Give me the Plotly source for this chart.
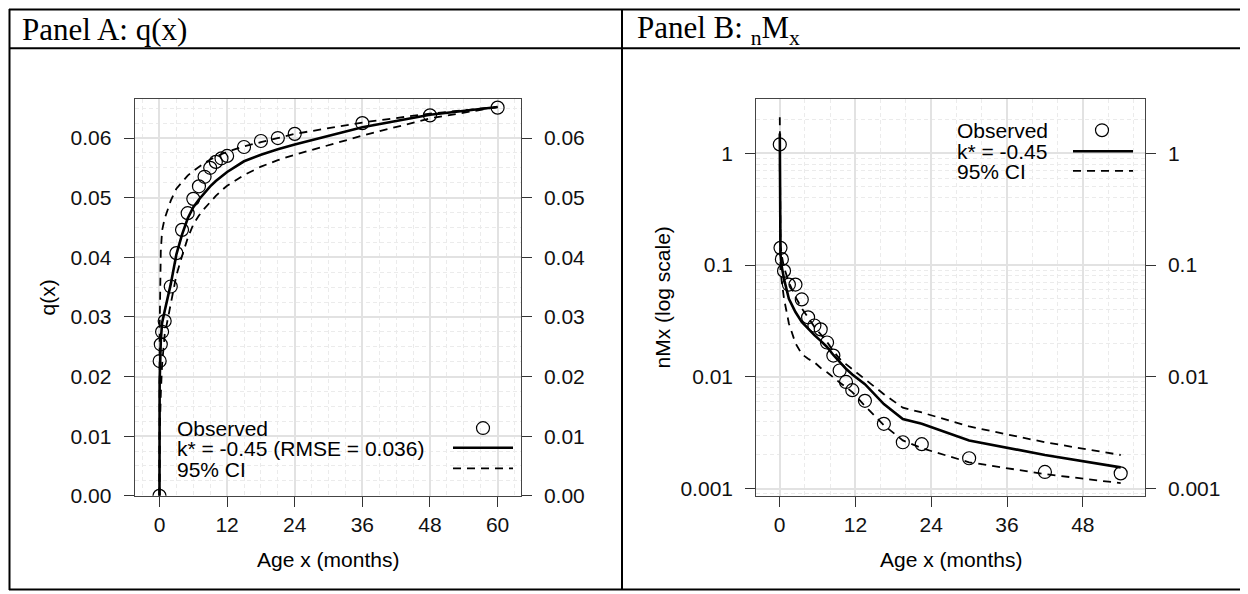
import plotly.graph_objects as go

# ---------------- data ----------------
# Panel A: cumulative probability of dying q(x), age in months
age_a = [0, 0.03, 0.23, 0.46, 0.92, 2, 3, 4, 5, 6, 7, 8, 9, 10, 11, 12, 15, 18, 21, 24, 36, 48, 60]
q_obs = [0.0, 0.0226, 0.0254, 0.0275, 0.0293, 0.0351, 0.0407, 0.0446, 0.0474, 0.0498, 0.0519, 0.0535,
         0.0550, 0.0560, 0.0566, 0.0570, 0.0585, 0.0595, 0.0600, 0.0607, 0.0625, 0.0638, 0.0651]
q_fit = [0.0, 0.019, 0.026, 0.029, 0.031, 0.0355, 0.0405, 0.0438, 0.0465, 0.0484, 0.0497, 0.0508,
         0.0519, 0.0528, 0.0536, 0.0543, 0.0561, 0.0572, 0.0581, 0.0589, 0.0618, 0.0639, 0.0652]
q_up = [0.0, 0.028, 0.041, 0.0445, 0.0465, 0.0495, 0.0515, 0.0527, 0.0537, 0.0545, 0.0552, 0.0558,
        0.0564, 0.0569, 0.0573, 0.0577, 0.0586, 0.0593, 0.0600, 0.0607, 0.0626, 0.0641, 0.0652]
q_lo = [0.0, 0.010, 0.017, 0.022, 0.027, 0.0325, 0.037, 0.0402, 0.0432, 0.0455, 0.047, 0.0482,
        0.0493, 0.0503, 0.0512, 0.0520, 0.0538, 0.0552, 0.0563, 0.0572, 0.0604, 0.0633, 0.0652]

# Panel B: age-specific mortality rate nMx (interval midpoints, months)
age_b = [0.02, 0.13, 0.35, 0.69, 1.46, 2.5, 3.5, 4.5, 5.5, 6.5, 7.5, 8.5, 9.5, 10.5, 11.5,
         13.5, 16.5, 19.5, 22.5, 30, 42, 54]
m_obs = [1.2, 0.1425, 0.113, 0.0887, 0.0669, 0.0669, 0.0493, 0.0341, 0.0288, 0.0266, 0.0203, 0.0155,
         0.0114, 0.0090, 0.0076, 0.0061, 0.0038, 0.0026, 0.0025, 0.00187, 0.00141, 0.00137]
m_fit = [1.5, 0.125, 0.095, 0.075, 0.05, 0.038, 0.031, 0.027, 0.0236, 0.021, 0.0185, 0.0157,
         0.0135, 0.0118, 0.0105, 0.0086, 0.0057, 0.0042, 0.0038, 0.0027, 0.0020, 0.00155]
m_up = [2.1, 0.15, 0.12, 0.095, 0.07, 0.052, 0.041, 0.034, 0.028, 0.024, 0.0205, 0.017,
        0.0145, 0.013, 0.0117, 0.0095, 0.007, 0.0053, 0.0048, 0.0036, 0.0026, 0.0020]
m_lo = [0.8, 0.09, 0.07, 0.05, 0.03, 0.02, 0.016, 0.0145, 0.0135, 0.012, 0.011, 0.0098,
        0.0089, 0.0081, 0.0073, 0.0055, 0.0037, 0.0027, 0.0023, 0.00172, 0.00135, 0.00112]

age_ticks_a = [0, 12, 24, 36, 48, 60]
age_ticks_b = [0, 12, 24, 36, 48]
q_ticks = [0.0, 0.01, 0.02, 0.03, 0.04, 0.05, 0.06]
m_ticks = [0.001, 0.01, 0.1, 1]
m_tick_text = ["0.001", "0.01", "0.1", "1"]

legend_a = ["Observed", "k* = -0.45 (RMSE = 0.036)", "95% CI"]
legend_b = ["Observed", "k* = -0.45", "95% CI"]

# ---------------- layout helpers ----------------
W, H = 1248, 594
SANS = "Liberation Sans, Arial, sans-serif"
SERIF = "Liberation Serif, Times New Roman, serif"
FS = 21


def px(x):
    return x / W


def py(y):
    return 1 - y / H


fig = go.Figure()

line_main = dict(color="black", width=2.6)
line_ci = dict(color="black", width=1.8, dash="8px,6px")
circ = dict(symbol="circle-open", size=13, color="black", line=dict(width=1.2))

# Panel A traces
fig.add_trace(go.Scatter(x=age_a, y=q_up, mode="lines", line=line_ci, xaxis="x", yaxis="y"))
fig.add_trace(go.Scatter(x=age_a, y=q_lo, mode="lines", line=line_ci, xaxis="x", yaxis="y"))
fig.add_trace(go.Scatter(x=age_a, y=q_fit, mode="lines", line=line_main, xaxis="x", yaxis="y"))
fig.add_trace(go.Scatter(x=age_a, y=q_obs, mode="markers", marker=circ, xaxis="x", yaxis="y"))
fig.add_trace(go.Scatter(x=[], y=[], xaxis="x", yaxis="y3"))

# Panel B traces
fig.add_trace(go.Scatter(x=age_b, y=m_up, mode="lines", line=line_ci, xaxis="x2", yaxis="y2"))
fig.add_trace(go.Scatter(x=age_b, y=m_lo, mode="lines", line=line_ci, xaxis="x2", yaxis="y2"))
fig.add_trace(go.Scatter(x=age_b, y=m_fit, mode="lines", line=line_main, xaxis="x2", yaxis="y2"))
fig.add_trace(go.Scatter(x=age_b, y=m_obs, mode="markers", marker=circ, xaxis="x2", yaxis="y2"))
fig.add_trace(go.Scatter(x=[], y=[], xaxis="x2", yaxis="y4"))

grid_major = "#e2e2e2"
grid_minor = "#ebebeb"
tickfont = dict(family=SANS, size=FS, color="#111")
minor_style = dict(showgrid=True, griddash="4px,3px", gridcolor=grid_minor, gridwidth=1)

common_x = dict(showline=True, linecolor="#444", linewidth=1.2, mirror=True, ticks="outside",
                ticklen=10, tickcolor="#333", tickwidth=1.2, showgrid=True, gridcolor=grid_major,
                gridwidth=2, zeroline=False, tickfont=tickfont, ticklabelstandoff=0)
common_y = dict(showline=True, linecolor="#444", linewidth=1.2, mirror=True, ticks="outside",
                ticklen=10, tickcolor="#333", tickwidth=1.2, showgrid=True, gridcolor=grid_major,
                gridwidth=2, zeroline=False, tickfont=tickfont, ticklabelstandoff=8)

dom_y = [py(497), py(93)]
minor_log = [m * 10 ** e for e in range(-4, 1) for m in range(2, 10)]

fig.update_layout(
    width=W, height=H, margin=dict(l=0, r=0, t=0, b=0),
    paper_bgcolor="white", plot_bgcolor="white", showlegend=False,
    xaxis=dict(common_x, domain=[px(126.7), px(512.7)], range=[-4.4, 64.1], anchor="y",
               tickvals=age_ticks_a, minor=dict(minor_style, dtick=3, tick0=0)),
    yaxis=dict(common_y, domain=dom_y, range=[0, 0.0665], anchor="x", tickvals=q_ticks,
               tickformat=".2f", minor=dict(minor_style, dtick=0.0025, tick0=0)),
    yaxis3=dict(overlaying="y", side="right", anchor="x", range=[0, 0.0665], tickvals=q_ticks,
                tickformat=".2f", ticks="outside", ticklen=10, tickcolor="#333", tickwidth=1.2,
                showgrid=False, zeroline=False, showline=False, tickfont=tickfont,
                ticklabelstandoff=8),
    xaxis2=dict(common_x, domain=[px(748.3), px(1136.7)], range=[-3.7, 57.8], anchor="y2",
                tickvals=age_ticks_b, minor=dict(minor_style, dtick=4, tick0=0)),
    yaxis2=dict(common_y, domain=dom_y, type="log", range=[-3.064, 0.483], anchor="x2",
                tickvals=m_ticks, ticktext=m_tick_text,
                minor=dict(minor_style, tickvals=minor_log)),
    yaxis4=dict(overlaying="y2", side="right", anchor="x2", type="log", range=[-3.064, 0.483],
                tickvals=m_ticks, ticktext=m_tick_text, ticks="outside", ticklen=10,
                tickcolor="#333", tickwidth=1.2, showgrid=False, zeroline=False, showline=False,
                tickfont=tickfont, ticklabelstandoff=8),
)

annotations = []
shapes = []


def text(x, y, s, size=FS, family=SANS, xanchor="left", angle=0):
    annotations.append(dict(x=px(x), y=py(y), xref="paper", yref="paper", text=s, showarrow=False,
                            xanchor=xanchor, yanchor="middle", textangle=angle,
                            font=dict(family=family, size=size, color="black")))


def hline(x0, x1, y, width=2, dash=None, color="black"):
    shapes.append(dict(type="line", xref="paper", yref="paper", x0=px(x0), x1=px(x1), y0=py(y),
                       y1=py(y), line=dict(color=color, width=width, dash=dash)))


def vline(x, y0, y1, width=2):
    shapes.append(dict(type="line", xref="paper", yref="paper", x0=px(x), x1=px(x), y0=py(y0),
                       y1=py(y1), line=dict(color="black", width=width)))


def circle(x, y, r=6.5):
    shapes.append(dict(type="circle", xref="paper", yref="paper", x0=px(x - r), x1=px(x + r),
                       y0=py(y + r), y1=py(y - r), line=dict(color="black", width=1.2)))


# table frame
hline(1, 1247, 1.5)
hline(1, 1247, 592.5)
hline(1, 1247, 41)
vline(1.5, 1, 593)
vline(1246.5, 1, 593)
vline(614, 1, 593)

text(12, 22, "Panel A: q(x)", size=31, family=SERIF)
text(627, 22, "Panel B: <sub>n</sub>M<sub>x</sub>", size=31, family=SERIF)

# axis titles
text(320, 562, "Age x (months)", xanchor="center")
text(942.5, 562, "Age x (months)", xanchor="center")
text(40, 295, "q(x)", xanchor="center", angle=-90)
text(655, 295, "nMx (log scale)", xanchor="center", angle=-90)

# legend panel A
for s, yy in zip(legend_a, [428, 449, 470]):
    text(167, yy, s)
circle(475, 428)
hline(445, 505, 448, width=2.6)
hline(445, 505, 469, width=1.8, dash="8px,6px")

# legend panel B
for s, yy in zip(legend_b, [125, 146, 167]):
    text(947, yy, s)
circle(1094, 124.5)
hline(1065, 1125, 146, width=2.6)
hline(1065, 1125, 166, width=1.8, dash="8px,6px")

fig.update_layout(annotations=annotations, shapes=shapes)

fig.write_html("out.html")
